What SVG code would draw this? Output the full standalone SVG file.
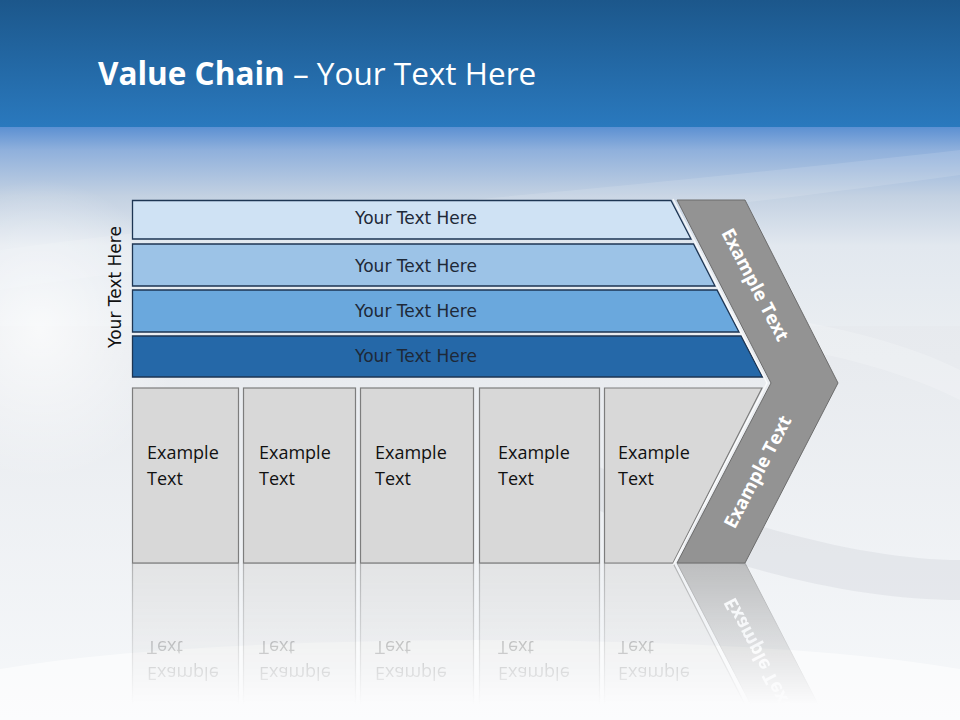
<svg xmlns="http://www.w3.org/2000/svg" width="960" height="720" viewBox="0 0 960 720">
<defs>
<linearGradient id="topBlue" x1="0" y1="0" x2="0" y2="1">
<stop offset="0" stop-color="#1c578b"/>
<stop offset="1" stop-color="#2a79be"/>
</linearGradient>
<linearGradient id="sky" x1="0" y1="0" x2="0" y2="1">
<stop offset="0" stop-color="#5a8fd2"/>
<stop offset="0.12" stop-color="#8fb0dc"/>
<stop offset="0.35" stop-color="#c3d1e2"/>
<stop offset="0.6" stop-color="#e2e8ef"/>
<stop offset="1" stop-color="#e9edf1"/>
</linearGradient>
<linearGradient id="lower" x1="0" y1="0" x2="0" y2="1">
<stop offset="0" stop-color="#dfe3e8"/>
<stop offset="0.5" stop-color="#e8ebef"/>
<stop offset="1" stop-color="#f6f8fa"/>
</linearGradient>
<radialGradient id="glowL" cx="0.5" cy="0.5" r="0.5">
<stop offset="0" stop-color="#ffffff" stop-opacity="0.9"/>
<stop offset="1" stop-color="#ffffff" stop-opacity="0"/>
</radialGradient>
<linearGradient id="fade" x1="0" y1="563" x2="0" y2="705" gradientUnits="userSpaceOnUse">
<stop offset="0" stop-color="#fff" stop-opacity="0.55"/>
<stop offset="1" stop-color="#fff" stop-opacity="0"/>
</linearGradient>
<mask id="reflMask" maskUnits="userSpaceOnUse" x="0" y="563" width="960" height="157">
<rect x="0" y="563" width="960" height="157" fill="url(#fade)"/>
</mask>
<style>
.bar{stroke:#1d3553;stroke-width:1.3}
.barText{font-family:"DejaVu Sans",sans-serif;font-size:17px;fill:#1e2938;text-anchor:middle}
.box{fill:#d8d8d8;stroke:#7d7d7d;stroke-width:1.2}
.boxText{font-family:"Open Sans","Noto Sans",sans-serif;font-size:18px;fill:#111111}
.chev{fill:#939393;stroke:#6c6c6c;stroke-width:1}
.chevText{font-family:"Open Sans","Noto Sans",sans-serif;font-size:18.5px;font-weight:bold;fill:#ffffff;text-anchor:middle}
.hl{fill:none;stroke:#ffffff;stroke-opacity:0.75;stroke-width:1.5}
</style>
</defs>

<!-- background -->
<rect x="0" y="0" width="960" height="720" fill="url(#lower)"/>
<rect x="0" y="126" width="960" height="200" fill="url(#sky)"/>
<rect x="0" y="0" width="960" height="127" fill="url(#topBlue)"/>
<ellipse cx="40" cy="330" rx="140" ry="150" fill="url(#glowL)" opacity="0.8"/>
<path d="M0,250 C250,215 520,200 960,150 L960,175 C560,230 260,250 0,290 Z" fill="#ffffff" opacity="0.12"/>
<path d="M520,430 C700,520 860,560 960,560 L960,600 C840,600 680,560 520,470 Z" fill="#c9ced5" opacity="0.3"/>
<path d="M620,300 C760,310 880,330 960,370 L960,400 C880,360 760,335 620,330 Z" fill="#ffffff" opacity="0.2"/>
<ellipse cx="480" cy="700" rx="560" ry="60" fill="#ffffff" opacity="0.55"/>

<!-- title -->
<text x="98" y="85" font-family="'Open Sans','Noto Sans',sans-serif" font-size="31.5" fill="#ffffff"><tspan font-weight="bold">Value Chain</tspan> – Your Text Here</text>

<!-- vertical label -->
<text class="barText" transform="translate(121,287) rotate(-90)" x="0" y="0" style="fill:#111">Your Text Here</text>

<!-- reflection -->
<g id="reflection" mask="url(#reflMask)">
<g transform="translate(0,1126) scale(1,-1)">
<rect class="box" x="132.5" y="388" width="106" height="175"/>
<rect class="box" x="243.5" y="388" width="112" height="175"/>
<rect class="box" x="360.5" y="388" width="113" height="175"/>
<rect class="box" x="479.5" y="388" width="120" height="175"/>
<polygon class="box" points="604.5,388 762,388 673,563 604.5,563"/>
<polygon class="chev" points="771,383 838,383 745,563 677,563"/>
<text class="boxText" x="147" y="459">Example</text><text class="boxText" x="147" y="485">Text</text>
<text class="boxText" x="259" y="459">Example</text><text class="boxText" x="259" y="485">Text</text>
<text class="boxText" x="375" y="459">Example</text><text class="boxText" x="375" y="485">Text</text>
<text class="boxText" x="498" y="459">Example</text><text class="boxText" x="498" y="485">Text</text>
<text class="boxText" x="618" y="459">Example</text><text class="boxText" x="618" y="485">Text</text>
<text class="chevText" transform="translate(758,472) rotate(-62.5)" x="0" y="6">Example Text</text>
</g>
</g>

<!-- connectors (none) -->
<g id="connectors"></g>

<!-- bars -->
<g id="bar1"><polygon class="bar" fill="#cfe2f4" points="132.5,200.5 671,200.5 691,239 132.5,239"/><text class="barText" x="416" y="224">Your Text Here</text></g>
<g id="bar2"><polygon class="bar" fill="#9cc3e7" points="132.5,244 693.5,244 715,286 132.5,286"/><text class="barText" x="416" y="272">Your Text Here</text></g>
<g id="bar3"><polygon class="bar" fill="#6aa8dd" points="132.5,290 717,290 739,332 132.5,332"/><text class="barText" x="416" y="317">Your Text Here</text></g>
<g id="bar4"><polygon class="bar" fill="#2568a8" points="132.5,336 741,336 762.5,377 132.5,377"/><text class="barText" x="416" y="362">Your Text Here</text></g>

<!-- boxes -->
<g id="box1"><rect class="box" x="132.5" y="388" width="106" height="175"/><text class="boxText" x="147" y="459">Example</text><text class="boxText" x="147" y="485">Text</text></g>
<g id="box2"><rect class="box" x="243.5" y="388" width="112" height="175"/><text class="boxText" x="259" y="459">Example</text><text class="boxText" x="259" y="485">Text</text></g>
<g id="box3"><rect class="box" x="360.5" y="388" width="113" height="175"/><text class="boxText" x="375" y="459">Example</text><text class="boxText" x="375" y="485">Text</text></g>
<g id="box4"><rect class="box" x="479.5" y="388" width="120" height="175"/><text class="boxText" x="498" y="459">Example</text><text class="boxText" x="498" y="485">Text</text></g>
<g id="box5"><polygon class="box" points="604.5,388 762,388 673,563 604.5,563"/><text class="boxText" x="618" y="459">Example</text><text class="boxText" x="618" y="485">Text</text></g>

<!-- chevron -->
<g id="chevron">
<polyline class="hl" points="673,199 767,383 673,565"/>
<polygon class="chev" points="677,200 745,200 838,383 745,563 677,563 771,383"/>
<text class="chevText" transform="translate(755,285) rotate(62.5)" x="0" y="6">Example Text</text>
<text class="chevText" transform="translate(758,472) rotate(-62.5)" x="0" y="6">Example Text</text>
</g>
</svg>
